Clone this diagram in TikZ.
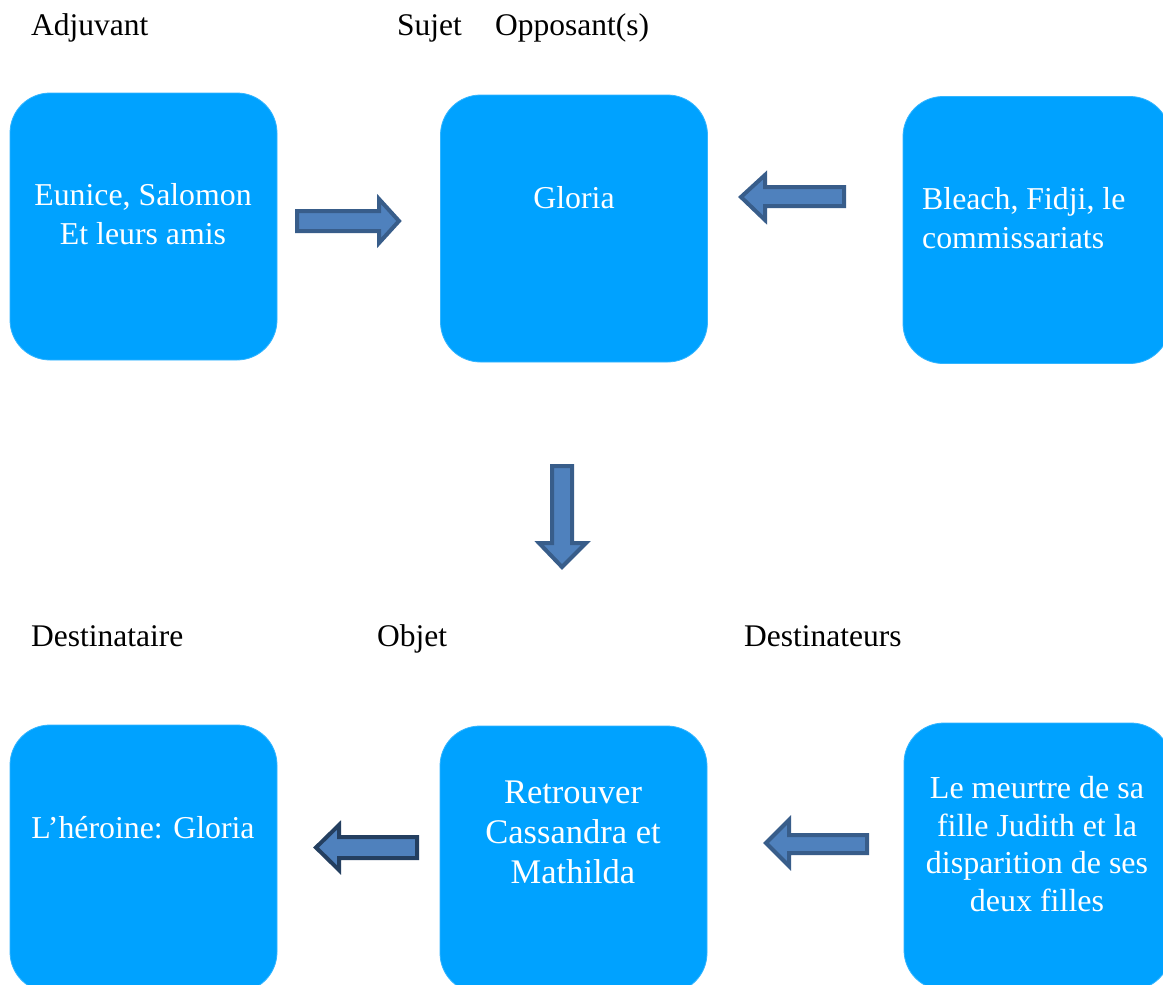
\documentclass[tikz,border=0pt]{standalone}
\usepackage{fontspec}
\setmainfont{Liberation Serif}
\definecolor{boxblue}{RGB}{0,162,255}
\definecolor{arrfill}{RGB}{79,129,189}
\definecolor{arredge}{RGB}{56,93,138}
\definecolor{arredgedark}{RGB}{36,63,96}
\begin{document}
\begin{tikzpicture}[x=1pt,y=-1pt,
  box/.style={draw=boxblue!80!white,fill=boxblue,rounded corners=40pt,minimum width=267pt,minimum height=267pt,line width=0.8pt,inner sep=0pt},
  intext/.style={text=white,font=\fontsize{31.8}{38.5}\selectfont,align=center,inner sep=0pt},
  lbl/.style={text=black,font=\fontsize{31.5}{38}\selectfont,inner sep=0pt,anchor=base west},
  blockarrow/.style={fill=arrfill,draw=arredge,line width=4pt,line join=miter}]
\useasboundingbox (0,0) rectangle (1163,985);
\clip (0,0) rectangle (1163,985);
\fill[white] (0,0) rectangle (1163,985);
% boxes
\node[box] (adj) at (143.5,226.5) {};
\node[box] (suj) at (574,228.5) {};
\node[box] (opp) at (1036.5,230) {};
\node[box] (dest) at (143.5,858.5) {};
\node[box] (obj) at (573.5,859.5) {};
\node[box] (dtr) at (1037.5,856.5) {};
% box texts
\node[intext] (tadj) at (143,214) {Eunice, Salomon\\Et leurs amis};
\node[intext] (tsuj) at (574,198) {Gloria};
\node[intext,align=left,anchor=west] (topp) at (922,218) {Bleach, Fidji, le\\commissariats};
\node[intext] (tdest) at (143,828) {L’héroine: Gloria};
\node[intext,font=\fontsize{34.5}{40}\selectfont] (tobj) at (573,832) {Retrouver\\Cassandra et\\Mathilda};
\node[intext,font=\fontsize{32}{37.5}\selectfont] (tdtr) at (1037,844) {Le meurtre de sa\\fille Judith et la\\disparition de ses\\deux filles};
% labels
\node[lbl] (ladj) at (31,35) {Adjuvant};
\node[lbl] (lsuj) at (397,35) {Sujet};
\node[lbl] (lopp) at (495,35) {Opposant(s)};
\node[lbl] (ldest) at (31,646) {Destinataire};
\node[lbl] (lobj) at (377,646) {Objet};
\node[lbl] (ldtr) at (744,646) {Destinateurs};
% block arrows
\draw[blockarrow] (297,211) -- (379,211) -- (379,199) -- (399,221) -- (379,243) -- (379,231) -- (297,231) -- cycle;
\draw[blockarrow] (844,187) -- (765,187) -- (765,175) -- (741,197) -- (765,220) -- (765,206) -- (844,206) -- cycle;
\draw[blockarrow] (552,466) -- (572,466) -- (572,543) -- (586,543) -- (562,567) -- (539,543) -- (552,543) -- cycle;
\draw[blockarrow,draw=arredgedark] (417,837) -- (339,837) -- (339,825) -- (316,847.5) -- (339,870) -- (339,858) -- (417,858) -- cycle;
\draw[blockarrow] (867,835) -- (789,835) -- (789,820) -- (766,843) -- (789,866) -- (789,853) -- (867,853) -- cycle;
\end{tikzpicture}
\end{document}
